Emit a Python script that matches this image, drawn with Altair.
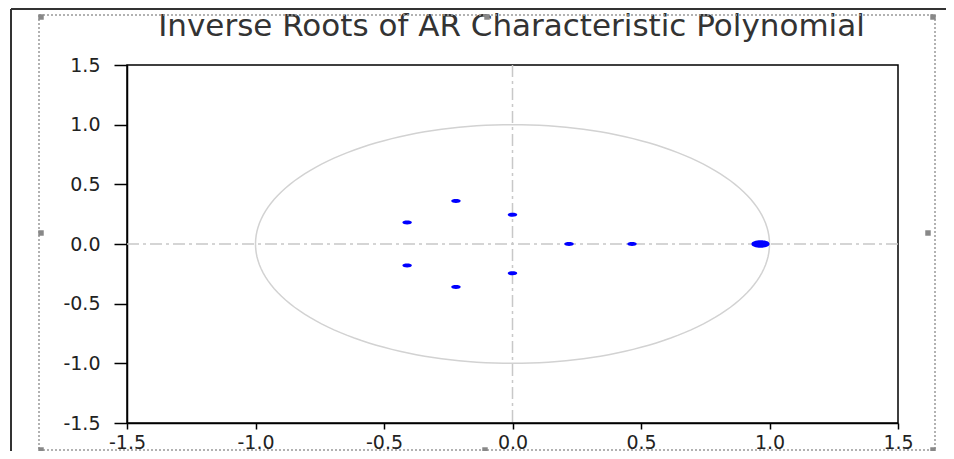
import altair as alt
import pandas as pd

root_re = [0.965, 0.465, 0.22, 0.0, 0.0, -0.22, -0.22, -0.41, -0.41]
root_im = [0.0, 0.0, 0.0, 0.245, -0.245, 0.36, -0.36, 0.18, -0.18]
tick_vals = [-1.5, -1.0, -0.5, 0.0, 0.5, 1.0, 1.5]
title_text = "Inverse Roots of AR Characteristic Polynomial"

roots = pd.DataFrame({"re": root_re, "im": root_im})
zero = pd.DataFrame({"v": [0.0]})

FONT = "DejaVu Sans"
W, H = 771, 358
LBL = "replace(format(datum.value, '.1f'), '\u2212', '-')"

xscale = alt.Scale(domain=[-1.5, 1.5], nice=False, zero=False)
yscale = alt.Scale(domain=[-1.5, 1.5], nice=False, zero=False)
xaxis = alt.Axis(values=tick_vals, labelExpr=LBL, title=None, grid=False,
                 tickSize=6, labelPadding=4, labelFontSize=19, labelFont=FONT,
                 labelColor="#222", domainColor="#000", domainWidth=1.5,
                 tickColor="#000", tickWidth=1.5, labelFlush=False, labelOverlap=False)
yaxis = alt.Axis(values=tick_vals, labelExpr=LBL, title=None, grid=False,
                 tickSize=13, labelPadding=14, labelFontSize=19, labelFont=FONT,
                 labelColor="#222", domainColor="#000", domainWidth=1.5,
                 tickColor="#000", tickWidth=1.5, labelFlush=False, labelOverlap=False)

circle = alt.Chart(alt.sequence(0, 362, 2, as_="deg")).transform_calculate(
    cx="cos(datum.deg*PI/180)", cy="sin(datum.deg*PI/180)"
).mark_line(color="#d2d2d2", strokeWidth=1.5).encode(
    x=alt.X("cx:Q", scale=xscale, axis=xaxis),
    y=alt.Y("cy:Q", scale=yscale, axis=yaxis),
    order="deg:Q",
)

hline = alt.Chart(zero).mark_rule(color="#c8c8c8", strokeWidth=1.5,
                                  strokeDash=[12, 4, 3, 4]).encode(
    y=alt.Y("v:Q", scale=yscale, axis=yaxis))
vline = alt.Chart(zero).mark_rule(color="#c8c8c8", strokeWidth=1.5,
                                  strokeDash=[12, 4, 3, 4]).encode(
    x=alt.X("v:Q", scale=xscale, axis=xaxis))

blob = "M-1,0 C-1,-0.55 1,-0.55 1,0 C1,0.55 -1,0.55 -1,0 Z"
pts = alt.Chart(roots).mark_point(filled=True, color="#0000ff", opacity=1,
                                  shape=blob).encode(
    x=alt.X("re:Q", scale=xscale, axis=xaxis),
    y=alt.Y("im:Q", scale=yscale, axis=yaxis),
    size=alt.condition("datum.re > 0.9", alt.value(330), alt.value(90)),
)

title = alt.Chart(pd.DataFrame({"t": [title_text]})).mark_text(
    font=FONT, fontSize=31, color="#333", align="center", baseline="alphabetic"
).encode(text="t:N", x=alt.value(W / 2 - 1), y=alt.value(-29))

# window/frame decorations (pixel positions relative to plot origin)
deco = []
deco.append(alt.Chart(zero).mark_rule(color="#333", strokeWidth=2).encode(
    x=alt.value(-116), x2=alt.value(W + 60), y=alt.value(-56)))
deco.append(alt.Chart(zero).mark_rule(color="#333", strokeWidth=2).encode(
    x=alt.value(-116), y=alt.value(-56), y2=alt.value(H + 40)))
dot = dict(color="#999", strokeWidth=1.5, strokeDash=[2, 2])
deco.append(alt.Chart(zero).mark_rule(**dot).encode(
    x=alt.value(-88), x2=alt.value(808), y=alt.value(-50)))
deco.append(alt.Chart(zero).mark_rule(**dot).encode(
    x=alt.value(-88), x2=alt.value(808), y=alt.value(385)))
deco.append(alt.Chart(zero).mark_rule(**dot).encode(
    x=alt.value(-88), y=alt.value(-50), y2=alt.value(385)))
deco.append(alt.Chart(zero).mark_rule(**dot).encode(
    x=alt.value(808), y=alt.value(-50), y2=alt.value(385)))
for hx, hy in [(-86, -48), (360, -48), (806, -48), (-86, 168), (801, 168),
               (-86, 385), (358, 385), (806, 385)]:
    deco.append(alt.Chart(zero).mark_square(color="#888", opacity=1, size=30).encode(
        x=alt.value(hx), y=alt.value(hy)))

chart = alt.layer(circle, hline, vline, pts, title, *deco).properties(
    width=W, height=H,
    autosize=alt.AutoSizeParams(type="none"),
    padding={"left": 119, "top": 57, "right": 48, "bottom": 28},
).configure_view(stroke="#000", strokeWidth=1.5)

chart.save("out.html", embed_options={"renderer": "svg", "actions": False})
